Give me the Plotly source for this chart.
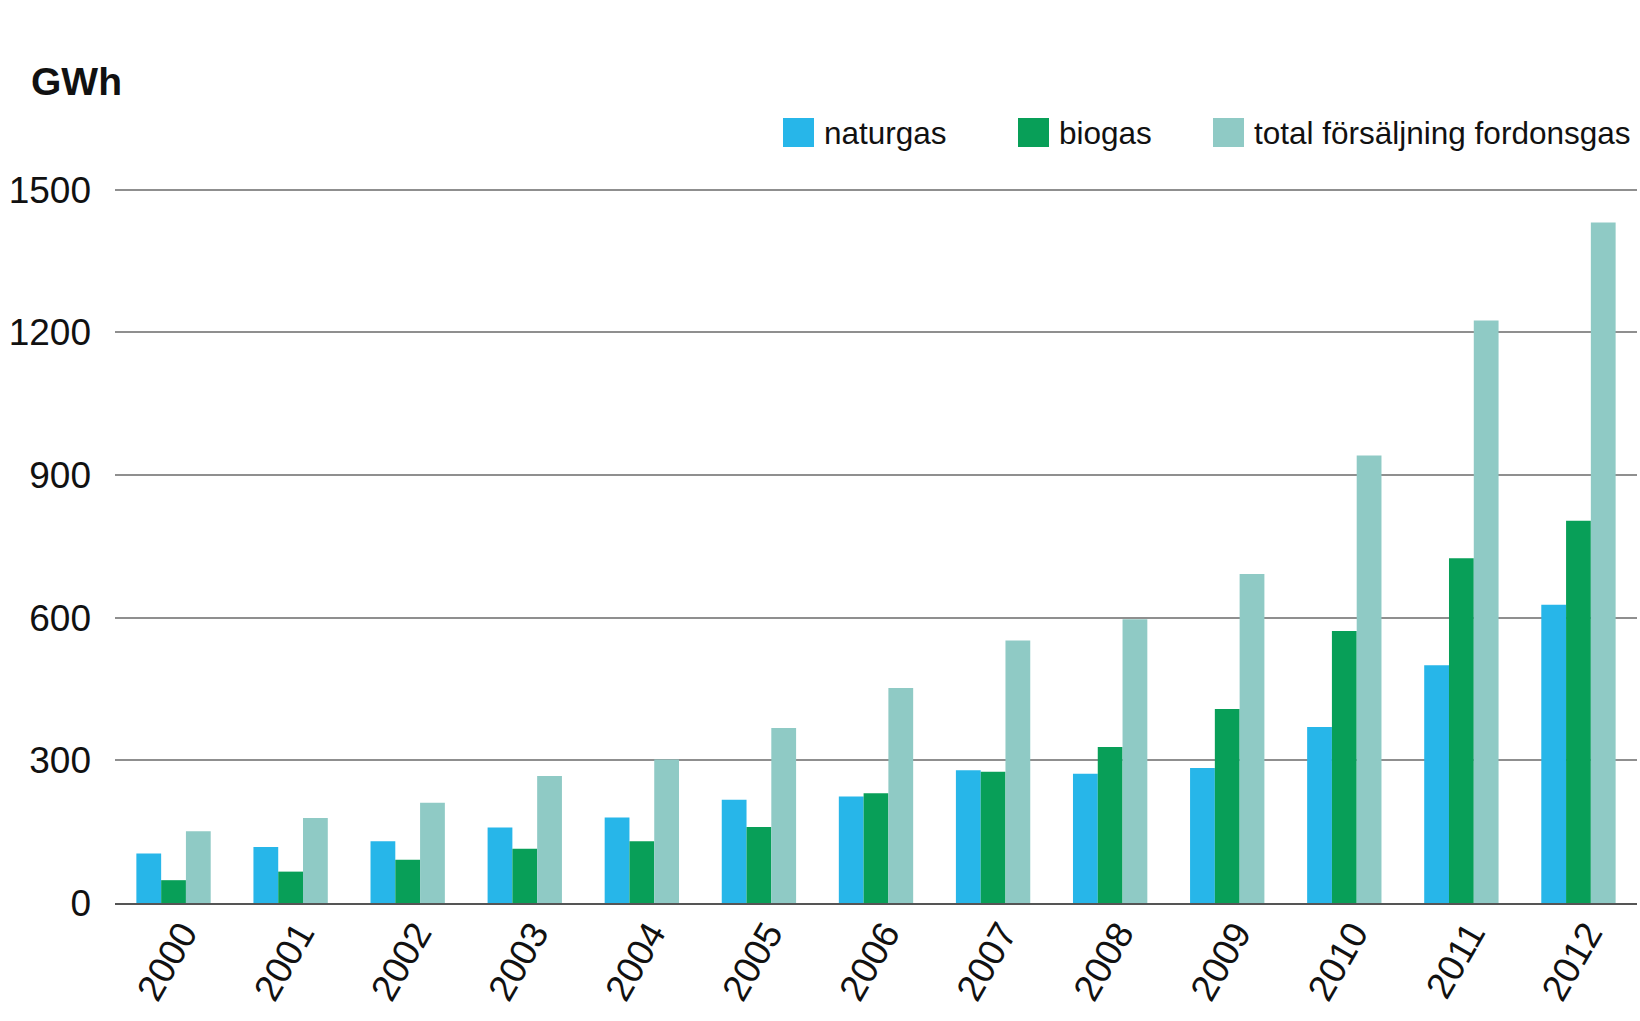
import plotly.graph_objects as go

years = ["2000", "2001", "2002", "2003", "2004", "2005", "2006",
         "2007", "2008", "2009", "2010", "2011", "2012"]
naturgas = [104, 118, 130, 159, 180, 217, 224, 279, 272, 284, 370, 500, 627]
biogas = [48, 66, 91, 114, 130, 160, 231, 276, 328, 408, 572, 725, 804]
total = [151, 179, 211, 267, 302, 368, 452, 552, 597, 692, 941, 1225, 1431]

series_names = ["naturgas", "biogas", "total försäljning fordonsgas"]
series_colors = ["#27b6e9", "#089f58", "#8fcac5"]
y_ticks = [0, 300, 600, 900, 1200, 1500]

FONT = "Liberation Sans, Arial, sans-serif"
W, H = 1640, 1021
L, R, T, B = 115, 3, 185, 118
PW, PH = W - L - R, H - T - B


def px(x):
    return (x - L) / PW


def py(y):
    return (H - B - y) / PH


fig = go.Figure()
for name, vals, col in zip(series_names, [naturgas, biogas, total], series_colors):
    fig.add_trace(go.Bar(x=years, y=vals, name=name, marker_color=col,
                         marker_line_width=0, showlegend=False))

fig.update_layout(
    width=W, height=H,
    margin=dict(l=L, r=R, t=T, b=B),
    paper_bgcolor="white", plot_bgcolor="white",
    barmode="group", bargap=0.365, bargroupgap=0,
    font=dict(family=FONT, size=31, color="#111"),
    xaxis=dict(type="category", tickangle=-60, showgrid=False, ticks="",
               showline=True, linecolor="#555", linewidth=2,
               tickfont=dict(size=37, color="#111"), ticklabelshift=9,
               ticklabelstandoff=-8),
    yaxis=dict(range=[0, 1510], tickvals=y_ticks, showgrid=True,
               gridcolor="#8f8f8f", gridwidth=2, zeroline=False,
               showline=False, ticks="", ticklabelstandoff=23,
               tickfont=dict(size=37, color="#111")),
)

fig.add_annotation(text="<b>GWh</b>", xref="paper", yref="paper",
                   x=px(29), y=py(82), xanchor="left", yanchor="middle",
                   showarrow=False,
                   font=dict(size=39, color="#111", family=FONT))

# custom legend
leg_x = [783, 1018, 1213]
for name, col, lx in zip(series_names, series_colors, leg_x):
    fig.add_shape(type="rect", xref="paper", yref="paper",
                  x0=px(lx), x1=px(lx + 31), y0=py(147), y1=py(118),
                  fillcolor=col, line_width=0)
    fig.add_annotation(text=name, xref="paper", yref="paper",
                       x=px(lx + 39), y=py(133),
                       xanchor="left", yanchor="middle", showarrow=False,
                       font=dict(size=31.5, color="#111", family=FONT))

fig.write_html("out.html", config={"displayModeBar": False},
               post_script="document.body.style.margin='0';")
